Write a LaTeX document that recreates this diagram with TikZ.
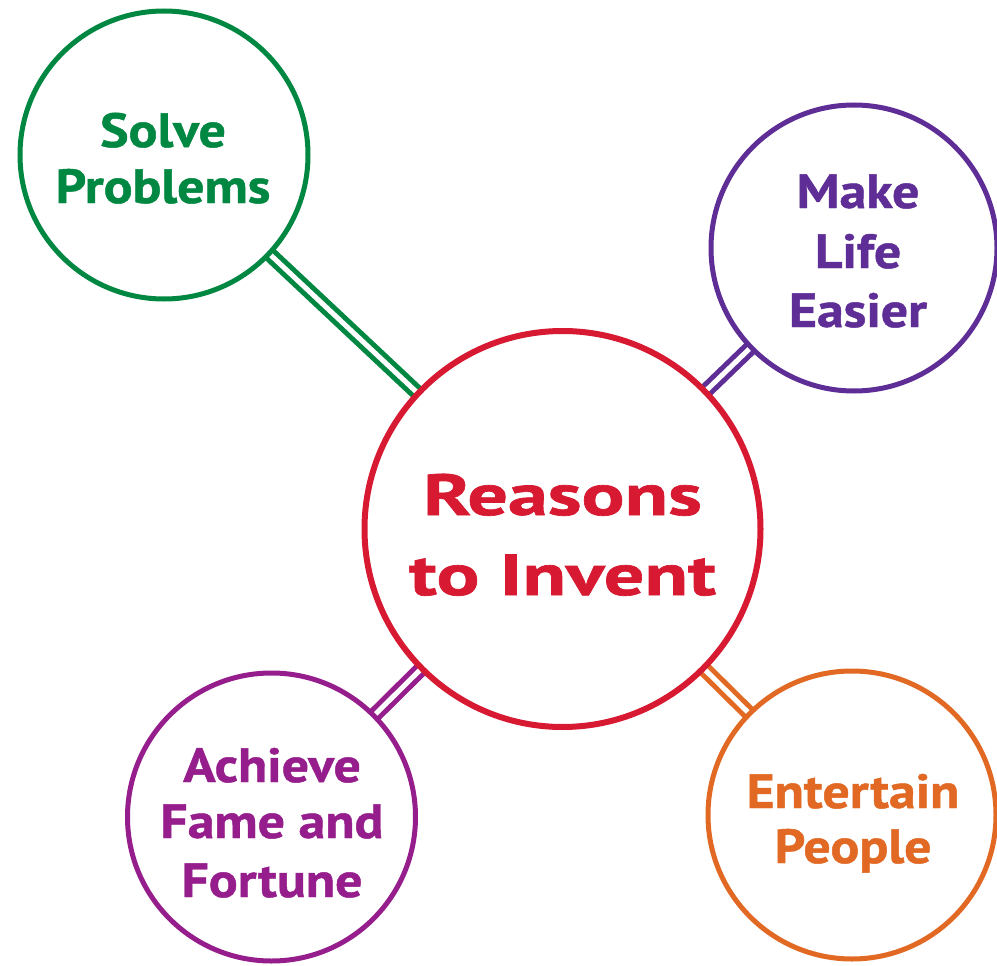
\documentclass[tikz,border=0pt]{standalone}
\usepackage{fontspec}
\setmainfont{PT Sans}
\newfontfamily\bigf[FakeStretch=1.38,FakeBold=1.2]{PT Sans Bold}
\newfontfamily\smallf[FakeStretch=1.12,FakeBold=1.0]{PT Sans Bold}
\definecolor{cgreen}{RGB}{0,135,65}
\definecolor{cpurple}{RGB}{95,45,150}
\definecolor{cmagenta}{RGB}{150,30,140}
\definecolor{corange}{RGB}{225,105,35}
\definecolor{cred}{RGB}{215,25,50}
\tikzset{
  circ/.style={circle, draw=#1, fill=white, line width=5pt, inner sep=0pt},
  link/.style={draw=#1, line width=5pt, double=white, double distance=5pt},
  small/.style={text=#1, anchor=base, inner sep=0pt, font=\smallf\fontsize{48}{57}\selectfont},
  big/.style={text=#1, anchor=base, inner sep=0pt, font=\bigf\fontsize{58}{80}\selectfont},
}
\begin{document}
\begin{tikzpicture}[x=1pt,y=-1pt]
\useasboundingbox (0,0) rectangle (997,966);
\coordinate (cC) at (562.5,529);
\coordinate (cS) at (164,155);
\coordinate (cM) at (854,248);
\coordinate (cA) at (271.5,817);
\coordinate (cE) at (852,815);
% connectors
\draw[link=cgreen] (cS) -- (cC);
\draw[link=cpurple] (cM) -- (cC);
\draw[link=cmagenta] (cA) -- (cC);
\draw[link=corange] (cE) -- (cC);
% circles
\node[circ=cred, line width=6pt, minimum size=396pt] (center) at (cC) {};
\node[circ=cgreen, minimum size=288pt] (solve) at (cS) {};
\node[circ=cpurple, minimum size=286pt] (make) at (cM) {};
\node[circ=cmagenta, minimum size=288pt] (achieve) at (cA) {};
\node[circ=corange, minimum size=288pt] (entertain) at (cE) {};
% texts
\node[big=cred] (t1) at (562.5,515) {Reasons};
\node[big=cred] (t2) at (562.5,595) {to Invent};
\node[small=cgreen] (s1) at (163,147) {Solve};
\node[small=cgreen] (s2) at (163,203) {Problems};
\node[small=cpurple] (m1) at (858,208) {Make};
\node[small=cpurple] (m2) at (858,268) {Life};
\node[small=cpurple] (m3) at (858,327) {Easier};
\node[small=cmagenta] (a1) at (272,782) {Achieve};
\node[small=cmagenta] (a2) at (272,838) {Fame and};
\node[small=cmagenta] (a3) at (272,897) {Fortune};
\node[small=corange] (e1) at (853,808) {Entertain};
\node[small=corange] (e2) at (853,863) {People};
\end{tikzpicture}
\end{document}
